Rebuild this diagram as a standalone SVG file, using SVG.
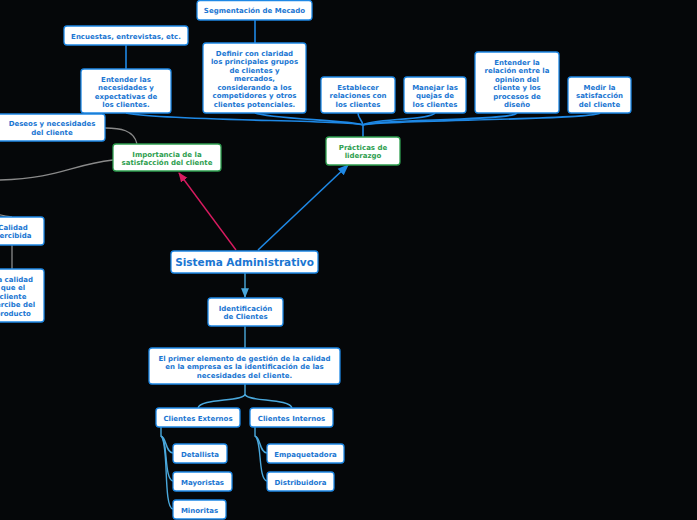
<svg xmlns="http://www.w3.org/2000/svg" width="697" height="520" viewBox="0 0 697 520">
<defs>
<style>
.n rect{fill:#fff;stroke:#1e88e5;stroke-width:1.3}
.g rect{fill:#fff;stroke:#2e9e4f;stroke-width:1.3}
text{font-family:"DejaVu Sans",Verdana,sans-serif;font-weight:bold;font-size:7px;fill:#1a76d2;text-anchor:middle}
.g text{fill:#2e9e4f}
.big text{font-size:10.5px}
.c path{fill:none}
.b{stroke:#1e88e5;stroke-width:1.6}
.lb{stroke:#4aa8dc;stroke-width:1.4}
.gr{stroke:#8a8a8a;stroke-width:1.3}
</style>
<marker id="ap" viewBox="0 0 10 10" refX="9" refY="5" markerWidth="7" markerHeight="7" orient="auto"><path d="M0,1 L10,5 L0,9 z" fill="#d81b60"/></marker>
<marker id="ab" viewBox="0 0 10 10" refX="9" refY="5" markerWidth="7" markerHeight="7" orient="auto"><path d="M0,1 L10,5 L0,9 z" fill="#1e88e5"/></marker>
<marker id="al" viewBox="0 0 10 10" refX="9" refY="5" markerWidth="7" markerHeight="7" orient="auto"><path d="M0,1 L10,5 L0,9 z" fill="#4aa8dc"/></marker>
</defs>
<rect width="697" height="520" fill="#050709"/>
<g class="c" id="connectors">
<path d="M236,250 L179,173" stroke="#d81b60" stroke-width="1.4" marker-end="url(#ap)"/>
<path d="M258,250 L348,165" class="b" stroke-width="1.4" marker-end="url(#ab)"/>
<path d="M245,273 L245,297" class="lb" marker-end="url(#al)"/>
<path d="M245,326 L245,348" class="lb"/>
<path d="M245,384 L245,394 C245,402 200,398 198,408" class="lb"/>
<path d="M245,394 C245,402 290,398 292,408" class="lb"/>
<path d="M161,427 L161,436 C167,438 165,452 173,453" class="lb"/>
<path d="M161,436 C168,440 164,480 173,481" class="lb"/>
<path d="M161,436 C169,442 163,508 173,509" class="lb"/>
<path d="M255,427 L255,436 C261,438 259,452 267,453" class="lb"/>
<path d="M255,436 C262,440 258,480 267,481" class="lb"/>
<path d="M363,137 L363,125" class="b" stroke-width="2.2"/>
<path d="M363,125 C355,120 160,121 126,113" class="b"/>
<path d="M363,125 C350,120 270,119 255,113" class="b"/>
<path d="M363,125 C362,120 358,118 358,113" class="b"/>
<path d="M363,125 C368,119 432,120 435,113" class="b"/>
<path d="M363,125 C372,119 512,121 517,113" class="b"/>
<path d="M363,125 C375,120 595,120 600,113" class="b"/>
<path d="M126,69 L126,45" class="b"/>
<path d="M255,43 L255,20" class="b"/>
<path d="M137,144 C134,130 120,128 105,128" class="gr"/>
<path d="M113,160 C70,165 60,178 0,180 C-60,182 -40,210 12,217" class="gr" stroke-width="1.8"/>
<path d="M12,245 L12,269" class="gr"/>
</g>
<g class="n" id="seg"><rect x="197" y="0.5" width="115" height="19.5" rx="3"/><text x="254.5" y="12.5">Segmentación de Mecado</text></g>
<g class="n" id="enc"><rect x="64" y="26" width="124" height="19" rx="3"/><text x="126" y="38.5">Encuestas, entrevistas, etc.</text></g>
<g class="n" id="ent"><rect x="81" y="69" width="90" height="44" rx="3"/><text x="126" y="81.5">Entender las</text><text x="126" y="90">necesidades y</text><text x="126" y="98.5">expectativas de</text><text x="126" y="107">los clientes.</text></g>
<g class="n" id="def"><rect x="203" y="43" width="103" height="70" rx="3"/><text x="254.5" y="55.5">Definir con claridad</text><text x="254.5" y="64">los principales grupos</text><text x="254.5" y="72.5">de clientes y</text><text x="254.5" y="81">mercados,</text><text x="254.5" y="89.5">considerando a los</text><text x="254.5" y="98">competidores y otros</text><text x="254.5" y="106.5">clientes potenciales.</text></g>
<g class="n" id="est"><rect x="321" y="77" width="74" height="36" rx="3"/><text x="358" y="89.5">Establecer</text><text x="358" y="98">relaciones con</text><text x="358" y="106.5">los clientes</text></g>
<g class="n" id="man"><rect x="404" y="77" width="62" height="36" rx="3"/><text x="435" y="89.5">Manejar las</text><text x="435" y="98">quejas de</text><text x="435" y="106.5">los clientes</text></g>
<g class="n" id="rel"><rect x="475" y="52" width="84" height="61" rx="3"/><text x="517" y="64.5">Entender la</text><text x="517" y="73">relación entre la</text><text x="517" y="81.5">opinion del</text><text x="517" y="90">cliente y los</text><text x="517" y="98.5">procesos de</text><text x="517" y="107">diseño</text></g>
<g class="n" id="med"><rect x="568" y="77" width="63" height="36" rx="3"/><text x="599.5" y="89.5">Medir la</text><text x="599.5" y="98">satisfacción</text><text x="599.5" y="106.5">del cliente</text></g>
<g class="g" id="pra"><rect x="326" y="137" width="74" height="28" rx="3"/><text x="363" y="149.5">Prácticas de</text><text x="363" y="158">liderazgo</text></g>
<g class="g" id="imp"><rect x="113" y="144" width="108" height="27" rx="3"/><text x="167" y="156.5">Importancia de la</text><text x="167" y="165">satisfacción del cliente</text></g>
<g class="n" id="des"><rect x="-8" y="114" width="113" height="27" rx="3"/><text x="52" y="126">Deseos y necesidades</text><text x="52" y="134.5">del cliente</text></g>
<g class="n" id="cal"><rect x="-22" y="217" width="66" height="28" rx="3"/><text x="13" y="229.5">Calidad</text><text x="13" y="238">Percibida</text></g>
<g class="n" id="lac"><rect x="-22" y="269" width="66" height="53" rx="3"/><text x="13" y="281.5">La calidad</text><text x="13" y="290">que el</text><text x="13" y="298.5">cliente</text><text x="13" y="307">percibe del</text><text x="13" y="315.5">producto</text></g>
<g class="n big" id="sis"><rect x="171" y="251" width="147" height="22" rx="3"/><text x="244.5" y="266">Sistema Administrativo</text></g>
<g class="n" id="ide"><rect x="208" y="298" width="75" height="28" rx="3"/><text x="245.5" y="310.5">Identificación</text><text x="245.5" y="319">de Clientes</text></g>
<g class="n" id="pri"><rect x="149" y="348" width="191" height="36" rx="3"/><text x="244.5" y="360.5">El primer elemento de gestión de la calidad</text><text x="244.5" y="369">en la empresa es la identificación de las</text><text x="244.5" y="377.5">necesidades del cliente.</text></g>
<g class="n" id="ext"><rect x="156" y="408" width="84" height="19" rx="3"/><text x="198" y="420.5">Clientes Externos</text></g>
<g class="n" id="int"><rect x="250" y="408" width="83" height="19" rx="3"/><text x="291.5" y="420.5">Clientes Internos</text></g>
<g class="n" id="det"><rect x="173" y="444" width="54" height="19" rx="3"/><text x="200" y="456.5">Detallista</text></g>
<g class="n" id="may"><rect x="173" y="472" width="59" height="19" rx="3"/><text x="202.5" y="484.5">Mayoristas</text></g>
<g class="n" id="min"><rect x="173" y="500" width="53" height="19" rx="3"/><text x="199.5" y="512.5">Minoritas</text></g>
<g class="n" id="emp"><rect x="267" y="444" width="77" height="19" rx="3"/><text x="305.5" y="456.5">Empaquetadora</text></g>
<g class="n" id="dis"><rect x="267" y="472" width="67" height="19" rx="3"/><text x="300.5" y="484.5">Distribuidora</text></g>
</svg>
